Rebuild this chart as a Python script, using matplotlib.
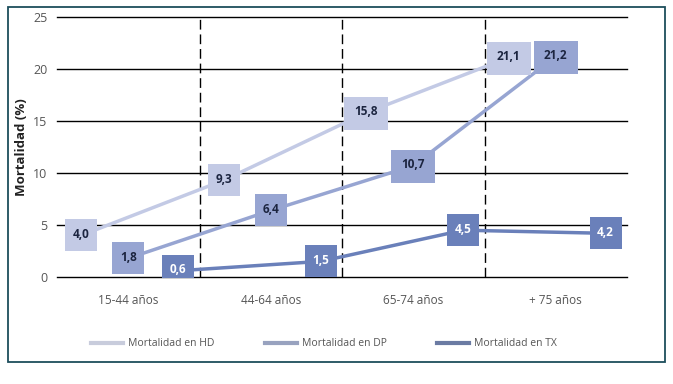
import matplotlib
matplotlib.use("Agg")
import matplotlib.pyplot as plt
from matplotlib.lines import Line2D
from matplotlib.patches import Rectangle
import matplotlib.transforms as mtransforms

categories = ["15-44 años", "44-64 años", "65-74 años", "+ 75 años"]
series_names = ["Mortalidad en HD", "Mortalidad en DP", "Mortalidad en TX"]
hd = [4.0, 9.3, 15.8, 21.1]
dp = [1.8, 6.4, 10.7, 21.2]
tx = [0.6, 1.5, 4.5, 4.2]
yticks = [0, 5, 10, 15, 20, 25]

colors = ["#c3cae5", "#97a5d2", "#6a80ba"]
legend_colors = ["#c8ccdc", "#98a2bf", "#6b7ba3"]
text_colors = ["#1c2540", "#1c2540", "#ffffff"]
offsets = [-0.33, 0.0, 0.35]

fig = plt.figure(figsize=(6.73, 3.84), dpi=100)
fig.patch.set_facecolor("white")
ax = fig.add_axes([57/673, 1-277/384, (627-57)/673, (277-17)/384])
ax.set_xlim(-0.5, len(categories) - 0.5)
ax.set_ylim(0, 25)
for s in ax.spines.values():
    s.set_visible(False)

for y in yticks:
    ax.axhline(y, color="black", lw=1.0, clip_on=False, zorder=1)
for i in range(1, len(categories)):
    ax.plot([i - 0.5, i - 0.5], [0, 25], color="black", lw=1.0,
            dashes=(7, 3.5), zorder=1, clip_on=False)

txt_shift = mtransforms.offset_copy(ax.transData, fig=fig, x=0, y=1.0, units="dots")
for k, vals in enumerate([hd, dp, tx]):
    xs = [i + offsets[k] for i in range(len(vals))]
    ax.plot(xs, vals, color=colors[k], lw=2.5, zorder=2, solid_capstyle="butt")
    for x, v in zip(xs, vals):
        lab = f"{v:.1f}".replace(".", ",")
        if len(lab) > 3:
            w, h = 44, 33
        else:
            w, h = 32, 32
        verts = [(-w/2, -h/2), (w/2, -h/2), (w/2, h/2), (-w/2, h/2), (-w/2, -h/2)]
        ms = max(w, h) * 72 / 100
        ax.plot([x], [v], marker=verts, ms=ms, color=colors[k], mew=0, ls="none", zorder=3)
        ax.text(x, v, lab, ha="center", va="center", fontsize=8.5, fontweight="bold",
                color=text_colors[k], zorder=4, family="Open Sans", transform=txt_shift)

ax.set_yticks(yticks)
ax.set_yticklabels([str(y) for y in yticks], fontsize=9, color="#555555", family="Open Sans")
ax.set_xticks(range(len(categories)))
ax.set_xticklabels(categories, fontsize=8.5, color="#555555", family="Open Sans")
ax.tick_params(axis="both", length=0)
ax.tick_params(axis="y", pad=7)
ax.tick_params(axis="x", pad=12)
ax.set_ylabel("Mortalidad (%)", fontsize=9.5, fontweight="bold", color="#222222",
              family="Open Sans")
ax.yaxis.set_label_coords((28-57)/570, 0.5)

handles = [Line2D([0], [0], color=legend_colors[k], lw=3) for k in range(3)]
leg = fig.legend(handles, series_names, loc="center", bbox_to_anchor=(324/673, 1-344/384),
                 ncol=3, frameon=False, handlelength=3.1, handletextpad=0.5,
                 columnspacing=4.8, prop={"family": "Open Sans", "size": 7.5})
for t in leg.get_texts():
    t.set_color("#555555")

fig.add_artist(Rectangle((8/673, 1-362/384), (665-8)/673, (362-7)/384,
                         transform=fig.transFigure, fill=False, edgecolor="#1d4e5c", lw=1.3))

fig.savefig("out.png", dpi=100, facecolor="white")
